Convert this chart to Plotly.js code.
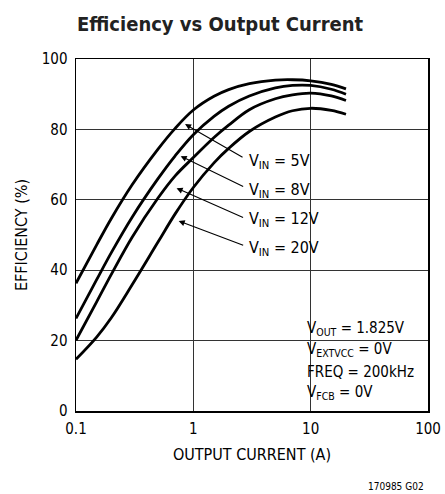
<!DOCTYPE html>
<html>
<head>
<meta charset="utf-8">
<script src="https://cdn.plot.ly/plotly-3.0.1.min.js"></script>
<style>
html,body{margin:0;padding:0;background:#fff;}
#chart{width:445px;height:494px;}
</style>
</head>
<body>
<div id="chart"></div>
<script>
// Output current (A)
const current = [0.1, 0.15, 0.2, 0.3, 0.5, 0.7, 1, 1.5, 2, 3, 5, 7, 10, 15, 20];
// Efficiency (%) for each input voltage
const eff5V  = [36.3, 47.2, 54.7, 64.2, 74.4, 80.3, 85.5, 89.4, 91.3, 93.0, 94.0, 94.1, 93.8, 92.8, 91.5];
const eff8V  = [26.3, 37.3, 45.0, 55.0, 66.0, 72.5, 78.5, 83.7, 86.6, 89.5, 91.8, 92.5, 92.5, 91.4, 90.0];
const eff12V = [20.1, 31.0, 38.8, 49.3, 60.5, 66.8, 72.0, 77.7, 81.2, 85.6, 88.7, 89.8, 90.3, 89.5, 88.2];
const eff20V = [14.7, 21.0, 26.5, 35.8, 48.0, 56.0, 63.5, 70.5, 74.6, 79.4, 83.5, 85.3, 86.0, 85.4, 84.3];
const seriesNames = ['V<sub>IN</sub> = 5V', 'V<sub>IN</sub> = 8V', 'V<sub>IN</sub> = 12V', 'V<sub>IN</sub> = 20V'];
// arrow tip points on each curve (current A, efficiency %)
const tipCurrent = [0.85, 0.78, 0.72, 0.75];
const tipEff     = [81.5, 72.4, 63.3, 54.0];
const xTickVals = [0.1, 1, 10, 100];
const xTickText = ['0.1', '1', '10', '100'];
const yTickVals = [0, 20, 40, 60, 80, 100];
const conditions = ['V<sub>OUT</sub> = 1.825V', 'V<sub>EXTVCC</sub> = 0V', 'FREQ = 200kHz', 'V<sub>FCB</sub> = 0V'];

const FONT = '"Liberation Sans Narrow", "Arial Narrow", "DejaVu Sans Condensed", sans-serif';
const allEff = [eff5V, eff8V, eff12V, eff20V];

const traces = allEff.map((e, i) => ({
  x: current, y: e, type: 'scatter', mode: 'lines',
  line: {color: '#000', width: 2.8, shape: 'spline', smoothing: 1.0},
  name: seriesNames[i], hoverinfo: 'skip'
}));

// px helpers for plot area: left 76, top 59, size 352x352
const L = 76, T = 59, W = 352, H = 352;
const px = v => (v - L) / W;
const py = v => (T + H - v) / H;

const annotations = [];
const labelTop = [151, 180, 209, 238];
const tailOff = [[59, 34], [64, 31], [68, 30], [66, 25]];
seriesNames.forEach((s, i) => {
  annotations.push({
    xref: 'paper', yref: 'paper', x: px(247), y: py(labelTop[i] - 2),
    xanchor: 'left', yanchor: 'top', text: s, showarrow: false,
    font: {family: FONT, size: 16, color: '#000'}
  });
  annotations.push({
    xref: 'x', yref: 'y', x: Math.log10(tipCurrent[i]), y: tipEff[i],
    text: '', showarrow: true, arrowhead: 2, arrowsize: 1.1, arrowwidth: 1.1,
    arrowcolor: '#000', ax: tailOff[i][0], ay: tailOff[i][1], standoff: 0
  });
});
conditions.forEach((c, i) => {
  annotations.push({
    xref: 'paper', yref: 'paper', x: px(305), y: py([317, 338, 361, 381][i]),
    xanchor: 'left', yanchor: 'top', text: c, showarrow: false,
    font: {family: FONT, size: 15, color: '#000'}
  });
});
annotations.push({
  xref: 'paper', yref: 'paper', x: (426 - L) / W, y: py(486),
  xanchor: 'right', yanchor: 'middle', text: '170985 G02', showarrow: false,
  font: {family: FONT, size: 10, color: '#000'}
});

const shapes = [
  {type: 'rect', xref: 'paper', yref: 'paper', x0: px(242), x1: px(322), y0: py(258), y1: py(143),
   fillcolor: '#fff', line: {width: 0}, layer: 'between'},
  {type: 'rect', xref: 'paper', yref: 'paper', x0: px(302), x1: px(423), y0: py(405), y1: py(316),
   fillcolor: '#fff', line: {width: 0}, layer: 'between'}
];

const layout = {
  width: 445, height: 494,
  margin: {l: L, r: 445 - L - W, t: T, b: 494 - T - H},
  paper_bgcolor: '#fff', plot_bgcolor: '#fff',
  showlegend: false,
  font: {family: FONT, color: '#000', size: 16},
  title: {text: '<b>Efficiency vs Output Current</b>', x: 77 / 445, xanchor: 'left', xref: 'container',
          y: 1 - 24 / 494, yanchor: 'middle', yref: 'container',
          font: {family: FONT, size: 20, color: '#222'}},
  xaxis: {
    type: 'log', range: [-1, 2], tickvals: xTickVals, ticktext: xTickText,
    showgrid: true, gridcolor: '#333', gridwidth: 1,
    showline: true, linecolor: '#000', linewidth: 1.5, mirror: true,
    ticks: '', zeroline: false, tickfont: {family: FONT, size: 15}, ticklabelstandoff: 3,
    title: {text: 'OUTPUT CURRENT (A)', font: {family: FONT, size: 16}, standoff: 12}
  },
  yaxis: {
    range: [0, 100], tickvals: yTickVals,
    showgrid: true, gridcolor: '#333', gridwidth: 1,
    showline: true, linecolor: '#000', linewidth: 1.5, mirror: true,
    ticks: '', zeroline: false, tickfont: {family: FONT, size: 15}, ticklabelstandoff: 4,
    title: {text: 'EFFICIENCY (%)', font: {family: FONT, size: 16}, standoff: 10}
  },
  shapes: shapes,
  annotations: annotations
};

Plotly.newPlot('chart', traces, layout, {displayModeBar: false, staticPlot: true});
</script>
</body>
</html>
